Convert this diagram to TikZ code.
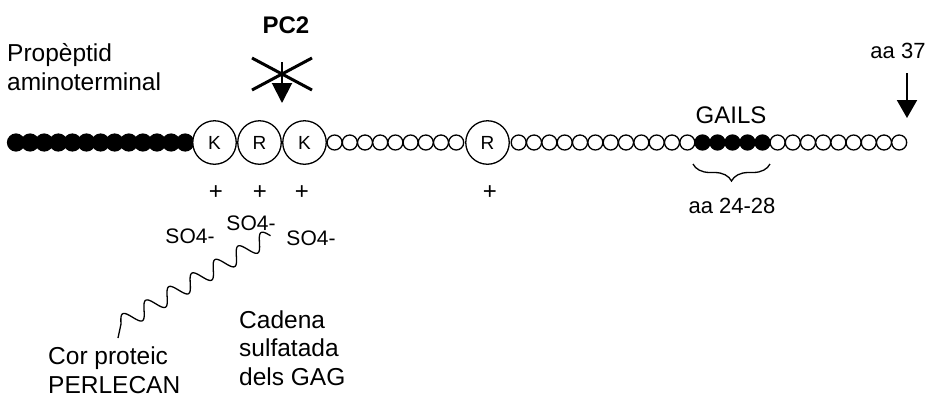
\documentclass[tikz,border=0pt]{standalone}
\usepackage{fontspec}
\setmainfont{Liberation Sans}
\usetikzlibrary{arrows.meta,decorations.pathreplacing}
\begin{document}
\begin{tikzpicture}[x=1pt,y=-1pt,
  lbl/.style={inner sep=0pt, font=\fontsize{24.5}{28.5}\selectfont, align=left},
  so/.style={inner sep=0pt, font=\fontsize{21}{24}\selectfont, anchor=base},
  plus/.style={inner sep=0pt, font=\fontsize{24}{26}\selectfont},
  bres/.style={circle, draw=black, fill=black, line width=1.2pt, minimum size=17pt, inner sep=0pt},
  gres/.style={circle, draw=black, fill=black, line width=1.3pt, minimum size=15pt, inner sep=0pt},
  wres/.style={circle, draw=black, fill=white, line width=1.3pt, minimum size=15pt, inner sep=0pt},
  bigres/.style={circle, draw=black, fill=white, line width=1.3pt, minimum size=43.5pt, inner sep=0pt, font=\fontsize{19}{20}\selectfont},
  cut/.style={line width=2pt, -{Triangle[width=20pt,length=20pt]}},
  cross/.style={line width=3pt},
  wave/.style={line width=1.3pt}]
\useasboundingbox (0,0) rectangle (938,400);

% amino-terminal propeptide (black residues)
\foreach \i in {0,...,12}
  \node[bres] (b\i) at ({16+14.1*\i},142.5) {};
% white residues
\foreach \i in {1,...,9}
  \node[wres] (wa\i) at ({334.6+15.2*(\i-1)},142.5) {};
\foreach \i in {1,...,12}
  \node[wres] (wb\i) at ({518.7+15.33*(\i-1)},142.5) {};
% GAILS residues
\foreach \i in {1,...,5}
  \node[gres] (g\i) at ({702.5+15*(\i-1)},142.5) {};
\foreach \i in {1,...,9}
  \node[wres] (wc\i) at ({777.6+15.2*(\i-1)},142.5) {};

% basic residues
\node[bigres] (k1) at (214.5,142.5) {K};
\node[bigres] (r1) at (259.5,142.5) {R};
\node[bigres] (k2) at (304.5,142.5) {K};
\node[bigres] (r2) at (487.5,142.5) {R};

% charges
\node[plus] (p1) at (216,192.5) {+};
\node[plus] (p2) at (260,192.5) {+};
\node[plus] (p3) at (302,192.5) {+};
\node[plus] (p4) at (490,192.5) {+};

% labels (base anchor = baseline of the last line)
\node[lbl, anchor=base west] (prop) at (7,90) {Propèptid\\aminoterminal};
\node[inner sep=0pt, font=\bfseries\fontsize{24}{28}\selectfont, anchor=base] (pc2) at (286,33) {PC2};
\node[inner sep=0pt, font=\fontsize{22}{24}\selectfont, anchor=base] (aa37) at (898,58) {aa 37};
\node[inner sep=0pt, font=\fontsize{24}{28}\selectfont, anchor=base] (gails) at (731,123) {GAILS};
\node[inner sep=0pt, font=\fontsize{22}{24}\selectfont, anchor=base] (aa2428) at (732,213) {aa 24-28};
\node[so] (so1) at (190,243) {SO4-};
\node[so] (so2) at (251,230) {SO4-};
\node[so] (so3) at (311,245) {SO4-};
\node[lbl, anchor=base west] (cad) at (239,385) {Cadena\\sulfatada\\dels GAG};
\node[lbl, anchor=base west] (cor) at (48,393) {Cor proteic\\PERLECAN};

% PC2 cleavage (blocked)
\coordinate (pcs) at (282,62);
\coordinate (pce) at (282,103);
\draw[cut] (pcs) -- (pce);
\coordinate (xa) at (252,58);
\coordinate (xb) at (312,90);
\coordinate (xc) at (252,90);
\coordinate (xd) at (312,58);
\draw[cross] (xa) -- (xb);
\draw[cross] (xc) -- (xd);

% aa 37 arrow
\coordinate (a37s) at (907,73);
\coordinate (a37e) at (907,118);
\draw[line width=2pt, -{Triangle[width=20pt,length=18pt]}] (a37s) -- (a37e);

% brace under GAILS
\coordinate (bra) at (693,164);
\coordinate (brb) at (770,164);
\draw[decorate, decoration={brace, mirror, amplitude=17pt}, line width=1.3pt] (bra) -- (brb);

% sulfated GAG chain (wavy)
\coordinate (w0) at (118,338);
\coordinate (w1) at (121,324);
\draw[wave] (w0) -- (w1) -- plot[domain=0:1, samples=400, smooth]
  ({121+150*\x-8*0.516*sin(6.5*360*\x)}, {324-88*\x-8*0.856*sin(6.5*360*\x)});
\end{tikzpicture}
\end{document}
